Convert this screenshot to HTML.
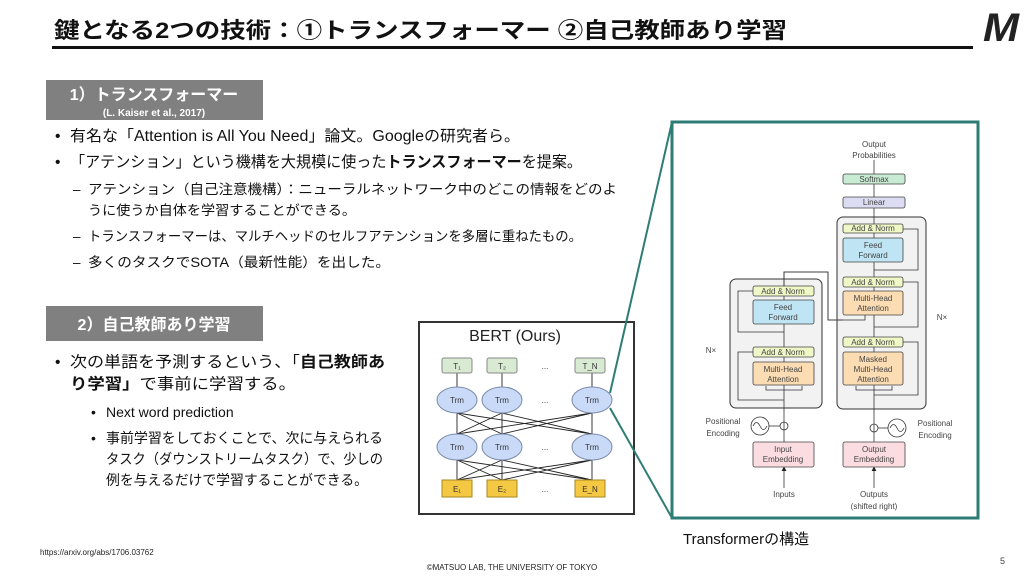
<!DOCTYPE html>
<html><head><meta charset="utf-8"><style>
body{margin:0;background:#fff;}
svg{display:block;font-family:"Liberation Sans","Noto Sans CJK JP",sans-serif;}
</style></head><body>
<svg width="1024" height="576" viewBox="0 0 1024 576" xmlns="http://www.w3.org/2000/svg">
<defs><marker id="a" markerWidth="6" markerHeight="6" refX="5" refY="3" orient="auto"><path d="M0,0 L6,3 L0,6z" fill="#222"/></marker></defs>
<!-- header -->
<text x="54" y="38" font-size="22" font-weight="bold" fill="#111" textLength="733" lengthAdjust="spacingAndGlyphs">鍵となる2つの技術：①トランスフォーマー ②自己教師あり学習</text>
<rect x="52" y="46" width="921" height="3" fill="#111"/>
<text x="983" y="41" font-size="40" font-weight="bold" font-style="italic" fill="#222" textLength="36" lengthAdjust="spacingAndGlyphs">M</text>
<!-- section 1 -->
<rect x="46" y="80" width="217" height="40" fill="#808080"/>
<text x="154" y="100" font-size="16" font-weight="bold" fill="#fff" text-anchor="middle">1）トランスフォーマー</text>
<text x="154" y="116" font-size="10" font-weight="bold" fill="#fff" text-anchor="middle">(L. Kaiser et al., 2017)</text>
<g font-size="15.5" fill="#111">
<text x="55" y="141">•</text><text x="70" y="141" textLength="450" lengthAdjust="spacingAndGlyphs">有名な「Attention is All You Need」論文。Googleの研究者ら。</text>
<text x="55" y="167">•</text><text x="70" y="167" textLength="512" lengthAdjust="spacingAndGlyphs">「アテンション」という機構を大規模に使った<tspan font-weight="bold">トランスフォーマー</tspan>を提案。</text>
</g>
<g font-size="13.5" fill="#111">
<text x="73" y="194">–</text><text x="88" y="194" textLength="529" lengthAdjust="spacingAndGlyphs">アテンション（自己注意機構）：ニューラルネットワーク中のどこの情報をどのよ</text>
<text x="88" y="215" textLength="268" lengthAdjust="spacingAndGlyphs">うに使うか自体を学習することができる。</text>
<text x="73" y="241">–</text><text x="88" y="241" textLength="494" lengthAdjust="spacingAndGlyphs">トランスフォーマーは、マルチヘッドのセルフアテンションを多層に重ねたもの。</text>
<text x="73" y="267">–</text><text x="88" y="267" textLength="302" lengthAdjust="spacingAndGlyphs">多くのタスクでSOTA（最新性能）を出した。</text>
</g>
<!-- section 2 -->
<rect x="46" y="306" width="217" height="35" fill="#808080"/>
<text x="154" y="330" font-size="16" font-weight="bold" fill="#fff" text-anchor="middle">2）自己教師あり学習</text>
<g font-size="15.5" fill="#111">
<text x="55" y="367">•</text><text x="70" y="367" textLength="315" lengthAdjust="spacingAndGlyphs">次の単語を予測するという、「<tspan font-weight="bold">自己教師あ</tspan></text>
<text x="70" y="389" textLength="226" lengthAdjust="spacingAndGlyphs"><tspan font-weight="bold">り学習」</tspan>で事前に学習する。</text>
</g>
<g font-size="14" fill="#111">
<text x="91" y="417">•</text><text x="106" y="417">Next word prediction</text>
<text x="91" y="443">•</text><text x="106" y="443" textLength="277" lengthAdjust="spacingAndGlyphs">事前学習をしておくことで、次に与えられる</text>
<text x="106" y="464" textLength="277" lengthAdjust="spacingAndGlyphs">タスク（ダウンストリームタスク）で、少しの</text>
<text x="106" y="485" textLength="262" lengthAdjust="spacingAndGlyphs">例を与えるだけで学習することができる。</text>
</g>
<!-- BERT -->
<rect x="419" y="322" width="215" height="192" fill="#fff" stroke="#333" stroke-width="2"/>
<text x="515" y="341" font-size="16" fill="#222" text-anchor="middle">BERT (Ours)</text>
<g stroke="#222" stroke-width="0.9">
<line x1="457" y1="460" x2="457" y2="480"/><line x1="502" y1="460" x2="502" y2="480"/><line x1="592" y1="460" x2="592" y2="480"/>
<line x1="457" y1="480" x2="502" y2="460"/><line x1="457" y1="480" x2="592" y2="460"/><line x1="502" y1="480" x2="457" y2="460"/><line x1="502" y1="480" x2="592" y2="460"/><line x1="592" y1="480" x2="457" y2="460"/><line x1="592" y1="480" x2="502" y2="460"/>
<line x1="457" y1="434" x2="457" y2="413"/><line x1="502" y1="434" x2="502" y2="413"/><line x1="592" y1="434" x2="592" y2="413"/>
<line x1="457" y1="434" x2="502" y2="413"/><line x1="457" y1="434" x2="592" y2="413"/><line x1="502" y1="434" x2="457" y2="413"/><line x1="502" y1="434" x2="592" y2="413"/><line x1="592" y1="434" x2="457" y2="413"/><line x1="592" y1="434" x2="502" y2="413"/>
<line x1="457" y1="387" x2="457" y2="373"/><line x1="502" y1="387" x2="502" y2="373"/><line x1="592" y1="387" x2="592" y2="373"/>
</g>
<g fill="#d9ead3" stroke="#888"><rect x="442" y="358" width="30" height="15" rx="2"/><rect x="487" y="358" width="30" height="15" rx="2"/><rect x="575" y="358" width="30" height="15" rx="2"/></g>
<g font-size="8" fill="#333" text-anchor="middle"><text x="457" y="369">T₁</text><text x="502" y="369">T₂</text><text x="590" y="369">T_N</text></g>
<g fill="#c9daf8" stroke="#7a8aa8"><ellipse cx="457" cy="400" rx="20" ry="13"/><ellipse cx="502" cy="400" rx="20" ry="13"/><ellipse cx="592" cy="400" rx="20" ry="13"/><ellipse cx="457" cy="447" rx="20" ry="13"/><ellipse cx="502" cy="447" rx="20" ry="13"/><ellipse cx="592" cy="447" rx="20" ry="13"/></g>
<g font-size="8" fill="#333" text-anchor="middle"><text x="457" y="403">Trm</text><text x="502" y="403">Trm</text><text x="592" y="403">Trm</text><text x="457" y="450">Trm</text><text x="502" y="450">Trm</text><text x="592" y="450">Trm</text>
<text x="545" y="369">...</text><text x="545" y="403">...</text><text x="545" y="450">...</text><text x="545" y="492">...</text></g>
<g fill="#f4c842" stroke="#a88a20"><rect x="442" y="480" width="30" height="17"/><rect x="487" y="480" width="30" height="17"/><rect x="575" y="480" width="30" height="17"/></g>
<g font-size="8" fill="#333" text-anchor="middle"><text x="457" y="492">E₁</text><text x="502" y="492">E₂</text><text x="590" y="492">E_N</text></g>
<!-- connectors -->
<line x1="610" y1="393" x2="672" y2="122" stroke="#2e7d74" stroke-width="2"/>
<line x1="610" y1="408" x2="672" y2="518" stroke="#2e7d74" stroke-width="2"/>
<!-- Transformer frame -->
<rect x="672" y="122" width="306" height="396" fill="#fff" stroke="#2e7d74" stroke-width="3"/>
<rect x="730" y="279" width="92" height="129" rx="6" fill="#f2f2f2" stroke="#333"/>
<rect x="837" y="217" width="89" height="192" rx="6" fill="#f2f2f2" stroke="#333"/>
<g stroke="#333" stroke-width="0.8" fill="none">
<line x1="784" y1="488" x2="784" y2="467" marker-end="url(#a)"/>
<line x1="874" y1="488" x2="874" y2="467" marker-end="url(#a)"/>
<line x1="784" y1="442" x2="784" y2="385"/>
<line x1="874" y1="442" x2="874" y2="385"/>
<line x1="784" y1="362" x2="784" y2="357"/><line x1="784" y1="347" x2="784" y2="324"/><line x1="784" y1="300" x2="784" y2="296"/>
<path d="M784,286 V272 H828 V320 H865 V315"/><path d="M784,286 V272 H828 V320 H843"/>
<line x1="874" y1="352" x2="874" y2="347"/><path d="M874,337 V322 H874 V315"/><line x1="874" y1="291" x2="874" y2="287"/><line x1="874" y1="277" x2="874" y2="262"/><line x1="874" y1="238" x2="874" y2="233"/>
<line x1="874" y1="224" x2="874" y2="208"/><line x1="874" y1="197" x2="874" y2="184"/><line x1="874" y1="174" x2="874" y2="160"/>
<path d="M784,400 H738 V352 H753"/><path d="M784,332 H738 V291 H753"/>
<path d="M874,395 H918 V342 H903"/><path d="M874,327 H918 V282 H903"/><path d="M874,270 H918 V229 H903"/>
<path d="M784,390 H766 V386"/><path d="M784,390 H802 V386"/><path d="M874,390 H856 V386"/><path d="M874,390 H892 V386"/>
<circle cx="784" cy="426" r="4"/><circle cx="874" cy="428" r="4"/>
<circle cx="760" cy="426" r="9"/><circle cx="897" cy="428" r="9"/>
<line x1="769" y1="426" x2="780" y2="426"/><line x1="878" y1="428" x2="888" y2="428"/>
<path d="M753,426 q3.5,-7 7,0 t7,0"/><path d="M890,428 q3.5,-7 7,0 t7,0"/>
</g>
<g stroke="#444" stroke-width="0.8">
<rect x="843" y="174" width="62" height="10" rx="2" fill="#c7ebd3"/>
<rect x="843" y="197" width="62" height="11" rx="2" fill="#dcdcf2"/>
<rect x="843" y="224" width="60" height="9" rx="2" fill="#eef7c5"/>
<rect x="843" y="238" width="60" height="24" rx="2" fill="#bfe4f4"/>
<rect x="843" y="277" width="60" height="10" rx="2" fill="#eef7c5"/>
<rect x="843" y="291" width="60" height="24" rx="2" fill="#fbdcb3"/>
<rect x="843" y="337" width="60" height="10" rx="2" fill="#eef7c5"/>
<rect x="843" y="352" width="60" height="33" rx="2" fill="#fbdcb3"/>
<rect x="753" y="286" width="61" height="10" rx="2" fill="#eef7c5"/>
<rect x="753" y="300" width="61" height="24" rx="2" fill="#bfe4f4"/>
<rect x="753" y="347" width="61" height="10" rx="2" fill="#eef7c5"/>
<rect x="753" y="362" width="61" height="23" rx="2" fill="#fbdcb3"/>
<rect x="753" y="442" width="61" height="25" rx="2" fill="#fbdde1"/>
<rect x="843" y="442" width="62" height="25" rx="2" fill="#fbdde1"/>
</g>
<g font-size="8" fill="#444" text-anchor="middle">
<text x="874" y="147">Output</text><text x="874" y="158">Probabilities</text>
<text x="874" y="182">Softmax</text><text x="874" y="205">Linear</text>
<text x="873" y="231">Add &amp; Norm</text><text x="873" y="248">Feed</text><text x="873" y="258">Forward</text>
<text x="873" y="285">Add &amp; Norm</text><text x="873" y="301">Multi-Head</text><text x="873" y="311">Attention</text>
<text x="873" y="345">Add &amp; Norm</text><text x="873" y="362">Masked</text><text x="873" y="372">Multi-Head</text><text x="873" y="382">Attention</text>
<text x="783" y="294">Add &amp; Norm</text><text x="783" y="310">Feed</text><text x="783" y="320">Forward</text>
<text x="783" y="355">Add &amp; Norm</text><text x="783" y="372">Multi-Head</text><text x="783" y="382">Attention</text>
<text x="783" y="452">Input</text><text x="783" y="462">Embedding</text>
<text x="874" y="452">Output</text><text x="874" y="462">Embedding</text>
<text x="784" y="497">Inputs</text><text x="874" y="497">Outputs</text><text x="874" y="509">(shifted right)</text>
<text x="723" y="424">Positional</text><text x="723" y="436">Encoding</text>
<text x="935" y="426">Positional</text><text x="935" y="438">Encoding</text>
<text x="711" y="353">N×</text><text x="942" y="320">N×</text>
</g>
<text x="683" y="544" font-size="15" fill="#111">Transformerの構造</text>
<!-- footer -->
<text x="40" y="555" font-size="8" fill="#222">https://arxiv.org/abs/1706.03762</text>
<text x="512" y="570" font-size="8" fill="#222" text-anchor="middle">©MATSUO LAB, THE UNIVERSITY OF TOKYO</text>
<text x="1000" y="564" font-size="9" fill="#444">5</text>
</svg>
</body></html>
